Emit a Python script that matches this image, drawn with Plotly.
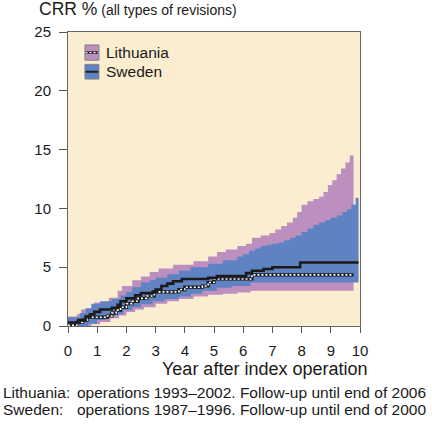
import plotly.graph_objects as go

# ---------------- data ----------------
swe_med_t = [0, 0.35, 0.6, 0.75, 0.9, 1.1, 1.5, 1.7, 1.8, 2.0, 2.3, 2.5, 2.9, 3.0, 3.2, 3.4, 3.6, 3.9, 4.8, 5.1, 6.1, 6.3, 6.7, 7.0, 7.95, 9.95]
swe_med_v = [0.3, 0.5, 0.8, 1.0, 1.2, 1.4, 1.55, 1.8, 2.1, 2.35, 2.6, 2.8, 2.9, 3.1, 3.4, 3.6, 3.8, 4.0, 4.1, 4.25, 4.5, 4.7, 4.85, 5.0, 5.4, 5.4]

swe_up_t = [0, 0.4, 0.6, 0.8, 1.1, 1.5, 1.8, 2.0, 2.2, 2.5, 2.8, 3.0, 3.4, 3.8, 4.2, 4.8, 5.3, 5.8, 6.0, 6.2,
            6.4, 6.6, 6.8, 7.0, 7.2, 7.4, 7.6, 7.8, 8.0, 8.2, 8.4, 8.6, 8.8, 9.0, 9.2, 9.4, 9.55, 9.7, 9.85, 9.95]
swe_up_v = [0.75, 1.1, 1.5, 1.9, 2.1, 2.3, 2.6, 2.9, 3.3, 3.7, 3.9, 4.1, 4.4, 4.7, 5.0, 5.3, 5.6, 5.9, 6.1, 6.4,
            6.6, 6.8, 6.9, 7.0, 7.1, 7.3, 7.5, 7.7, 8.0, 8.3, 8.6, 8.8, 9.0, 9.2, 9.4, 9.7, 9.9, 10.3, 10.9, 11.4]

swe_lo_t = [0, 0.7, 1.0, 1.3, 1.6, 1.9, 2.2, 2.5, 2.9, 3.3, 3.8, 4.2, 4.6, 5.1, 5.6, 6.25, 9.95]
swe_lo_v = [0, 0.2, 0.5, 0.8, 1.0, 1.35, 1.6, 1.85, 2.1, 2.3, 2.5, 2.75, 3.0, 3.25, 3.4, 3.7, 3.7]

lit_med_t = [0, 0.3, 0.5, 0.65, 1.35, 1.5, 1.65, 1.8, 2.0, 2.2, 2.4, 2.7, 2.95, 3.8, 4.0, 4.6, 4.8, 5.0, 6.3, 9.78]
lit_med_v = [0.05, 0.3, 0.5, 0.75, 0.85, 1.1, 1.35, 1.6, 1.9, 2.1, 2.35, 2.55, 2.9, 3.1, 3.3, 3.4, 3.7, 4.0, 4.35, 4.35]

lit_up_t = [0, 0.3, 0.45, 0.9, 1.4, 1.7, 1.85, 2.2, 2.5, 2.8, 3.1, 3.6, 4.3, 4.8, 5.1, 5.4, 5.8, 6.1, 6.3, 6.6,
            6.9, 7.1, 7.3, 7.5, 7.7, 7.85, 8.0, 8.2, 8.4, 8.6, 8.75, 8.9, 9.05, 9.2, 9.35, 9.5, 9.65, 9.78]
lit_up_v = [0.8, 1.0, 1.4, 2.0, 2.4, 3.0, 3.4, 3.9, 4.2, 4.6, 4.9, 5.2, 5.5, 5.9, 6.3, 6.5, 6.8, 7.0, 7.5, 7.7,
            7.9, 8.2, 8.5, 8.8, 9.2, 9.7, 10.3, 10.6, 10.8, 11.0, 11.4, 12.0, 12.4, 12.9, 13.4, 13.9, 14.5, 15.0]

lit_lo_t = [0, 0.8, 1.1, 1.45, 1.75, 2.0, 2.3, 2.6, 3.0, 3.4, 3.8, 4.3, 4.8, 5.3, 5.8, 6.25, 9.78]
lit_lo_v = [0, 0.15, 0.35, 0.65, 0.9, 1.2, 1.4, 1.6, 1.9, 2.1, 2.3, 2.5, 2.65, 2.75, 2.85, 3.0, 3.0]

x_ticks = [0, 1, 2, 3, 4, 5, 6, 7, 8, 9, 10]
y_ticks = [0, 5, 10, 15, 20, 25]
legend_names = ["Lithuania", "Sweden"]

BG = "#FBEDD0"
PURPLE = "#BC8FBF"
BLUE = "#5F82C2"
FONT = "Liberation Sans, Arial, sans-serif"
INK = "#1a1a1a"

fig = go.Figure()

# Lithuania band
fig.add_trace(go.Scatter(x=lit_lo_t, y=lit_lo_v, mode="lines", line=dict(width=0, shape="hv"),
                         showlegend=False, hoverinfo="skip"))
fig.add_trace(go.Scatter(x=lit_up_t, y=lit_up_v, mode="lines", line=dict(width=0, shape="hv"),
                         fill="tonexty", fillcolor=PURPLE, showlegend=False, hoverinfo="skip"))
# Sweden band
fig.add_trace(go.Scatter(x=swe_lo_t, y=swe_lo_v, mode="lines", line=dict(width=0, shape="hv"),
                         showlegend=False, hoverinfo="skip"))
fig.add_trace(go.Scatter(x=swe_up_t, y=swe_up_v, mode="lines", line=dict(width=0, shape="hv"),
                         fill="tonexty", fillcolor=BLUE, showlegend=False, hoverinfo="skip"))
# Lithuania median (black with white dots)
fig.add_trace(go.Scatter(x=lit_med_t, y=lit_med_v, mode="lines", line=dict(width=3.2, color=INK, shape="hv"),
                         showlegend=False))
fig.add_trace(go.Scatter(x=lit_med_t, y=lit_med_v, mode="lines",
                         line=dict(width=1.6, color="white", shape="hv", dash="2px,2px"),
                         showlegend=False))
# Sweden median
fig.add_trace(go.Scatter(x=swe_med_t, y=swe_med_v, mode="lines", line=dict(width=2.6, color=INK, shape="hv"),
                         showlegend=False))

# manual legend
shapes = []
legend_y = [(23.9, 22.6), (22.25, 21.0)]
fills = [PURPLE, BLUE]
for (y1, y0), fc in zip(legend_y, fills):
    shapes.append(dict(type="rect", xref="x", yref="y", x0=0.58, x1=1.06, y0=y0, y1=y1,
                       fillcolor=fc, line=dict(color="#8a7f8a", width=1)))
shapes.append(dict(type="line", xref="x", yref="y", x0=0.6, x1=1.04, y0=23.25, y1=23.25,
                   line=dict(color="#222", width=2.5)))
shapes.append(dict(type="line", xref="x", yref="y", x0=0.6, x1=1.04, y0=23.25, y1=23.25,
                   line=dict(color="white", width=1.2, dash="2px,2px")))
shapes.append(dict(type="line", xref="x", yref="y", x0=0.6, x1=1.04, y0=21.62, y1=21.62,
                   line=dict(color="#222", width=2)))

annotations = []
for name, (y1, y0) in zip(legend_names, legend_y):
    annotations.append(dict(x=1.22, y=(y0 + y1) / 2, xref="x", yref="y", text=name, showarrow=False,
                            xanchor="left", yanchor="middle", font=dict(size=15.5, color=INK, family=FONT)))

L, R, T, B = 68, 360, 32, 326.5
def px(xp):
    return (xp - L) / (R - L)
def py(yp):
    return (B - yp) / (B - T)

annotations.append(dict(x=px(37), y=py(9), xref="paper", yref="paper", xanchor="left", yanchor="middle",
                        showarrow=False,
                        text="CRR %<span style='font-size:14px'> (all types of revisions)</span>",
                        font=dict(size=17.5, color=INK, family=FONT)))
annotations.append(dict(x=px(369), y=py(370), xref="paper", yref="paper", xanchor="right", yanchor="middle",
                        showarrow=False, text="Year after index operation",
                        font=dict(size=18, color=INK, family=FONT)))
foot = [("Lithuania:", "operations 1993–2002. Follow-up until end of 2006", 393),
        ("Sweden:", "operations 1987–1996. Follow-up until end of 2000", 410.5)]
for lab, txt, yy in foot:
    annotations.append(dict(x=px(1), y=py(yy), xref="paper", yref="paper", xanchor="left", yanchor="middle",
                            showarrow=False, text=lab, font=dict(size=15.5, color=INK, family=FONT)))
    annotations.append(dict(x=px(75), y=py(yy), xref="paper", yref="paper", xanchor="left", yanchor="middle",
                            showarrow=False, text=txt, font=dict(size=15.5, color=INK, family=FONT)))

fig.update_layout(
    width=432, height=424,
    margin=dict(l=L, r=432 - R, t=T, b=424 - B, pad=0),
    paper_bgcolor="white", plot_bgcolor=BG,
    showlegend=False,
    shapes=shapes, annotations=annotations,
    font=dict(family=FONT, color=INK),
)
fig.update_xaxes(range=[0, 10], tickvals=x_ticks, ticks="outside", ticklen=6, tickcolor="#555",
                 showgrid=False, zeroline=False, showline=True, linecolor="#666", linewidth=1, mirror=True,
                 ticklabelstandoff=5,
                 tickfont=dict(size=15, family=FONT, color=INK))
fig.update_yaxes(range=[0, 25], tickvals=y_ticks, ticks="outside", ticklen=8, tickcolor="#555",
                 showgrid=False, zeroline=False, showline=True, linecolor="#666", linewidth=1, mirror=True,
                 ticklabelstandoff=5,
                 tickfont=dict(size=15, family=FONT, color=INK))

fig.write_html("out.html", config={"displayModeBar": False},
               post_script="document.body.style.margin='0';document.body.style.overflow='hidden';")
